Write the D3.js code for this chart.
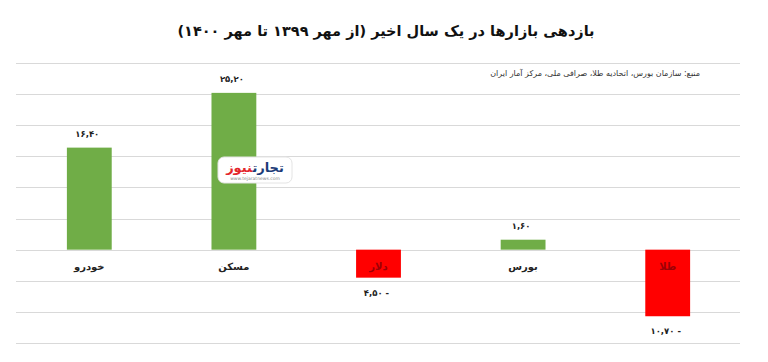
<!DOCTYPE html>
<html>
<head>
<meta charset="utf-8">
<script src="https://cdn.jsdelivr.net/npm/d3@7"></script>
<style>
  body { margin: 0; background: #fff; }
  svg text { font-family: "DejaVu Sans", sans-serif; }
</style>
</head>
<body>
<div id="chart"></div>
<script>
// data (percent return, Mehr 1399 -> Mehr 1400)
const categories = ['خودرو', 'مسکن', 'دلار', 'بورس', 'طلا'];
const values = [16.40, 25.20, -4.50, 1.60, -10.70];
const valueLabels = ['۱۶,۴۰', '۲۵,۲۰', '۴,۵۰ -', '۱,۶۰', '۱۰,۷۰ -'];
const gridTicks = [-15, -10, -5, 0, 5, 10, 15, 20, 25, 30];

const title = 'بازدهی بازارها در یک سال اخیر (از مهر ۱۳۹۹  تا مهر ۱۴۰۰)';
const source = 'منبع: سازمان بورس، اتحادیه طلا، صرافی ملی، مرکز آمار ایران';

const W = 768, H = 362;
const svg = d3.select('#chart').append('svg').attr('width', W).attr('height', H);

const x = d3.scaleBand().domain(categories).range([17, 740]).paddingInner(0.69).paddingOuter(0.345);
const y = d3.scaleLinear().domain([-15, 30]).range([343, 63]);

// grid
svg.append('g').selectAll('line').data(gridTicks).join('line')
  .attr('x1', 16).attr('x2', 740)
  .attr('y1', d => Math.round(y(d)) + 0.5).attr('y2', d => Math.round(y(d)) + 0.5)
  .attr('stroke', '#d9d9d9').attr('stroke-width', 1);

// bars
const data = categories.map((c, i) => ({c, v: values[i], lab: valueLabels[i]}));
svg.append('g').selectAll('rect').data(data).join('rect')
  .attr('x', d => x(d.c))
  .attr('width', x.bandwidth())
  .attr('y', d => y(Math.max(0, d.v)))
  .attr('height', d => Math.abs(y(d.v) - y(0)))
  .attr('fill', d => d.v >= 0 ? '#70ad47' : '#ff0000');

// value labels
svg.append('g').selectAll('text').data(data).join('text')
  .attr('x', d => x(d.c) + x.bandwidth() / 2 - 2)
  .attr('y', d => d.v >= 0 ? y(d.v) - 11 : y(d.v) + 18)
  .attr('text-anchor', 'middle')
  .attr('font-size', 8.5).attr('font-weight', 'bold').attr('fill', '#222')
  .attr('direction', 'ltr')
  .text(d => d.lab);

// category labels
svg.append('g').selectAll('text').data(data).join('text')
  .attr('x', d => x(d.c) + x.bandwidth() / 2)
  .attr('y', y(0) + 20)
  .attr('text-anchor', 'middle')
  .attr('font-size', 10).attr('font-weight', 'bold')
  .attr('fill', d => d.v >= 0 ? '#222' : '#9c0006')
  .text(d => d.c);

// title
svg.append('text')
  .attr('x', 386).attr('y', 36)
  .attr('text-anchor', 'middle')
  .attr('font-size', 14.5).attr('font-weight', 'bold').attr('fill', '#111')
  .text(title);

// source note
svg.append('text')
  .attr('x', 700).attr('y', 76)
  .attr('text-anchor', 'start')
  .attr('direction', 'rtl')
  .attr('font-size', 8).attr('fill', '#333')
  .text(source);

// watermark logo
const logo = svg.append('g').attr('transform', 'translate(218,157)');
logo.append('rect').attr('width', 74).attr('height', 26).attr('rx', 6)
  .attr('fill', '#fff').attr('stroke', '#e4e4e4');
logo.append('text').attr('x', 37).attr('y', 15).attr('text-anchor', 'middle')
  .attr('direction', 'rtl').attr('font-size', 13).attr('font-weight', 'bold')
  .call(t => {
    t.append('tspan').attr('fill', '#1d3c78').text('تجارت');
    t.append('tspan').attr('fill', '#e3262b').text('نیوز');
  });
logo.append('text').attr('x', 37).attr('y', 23).attr('text-anchor', 'middle')
  .attr('font-size', 4.5).attr('fill', '#888').text('www.tejaratnews.com');
</script>
</body>
</html>
